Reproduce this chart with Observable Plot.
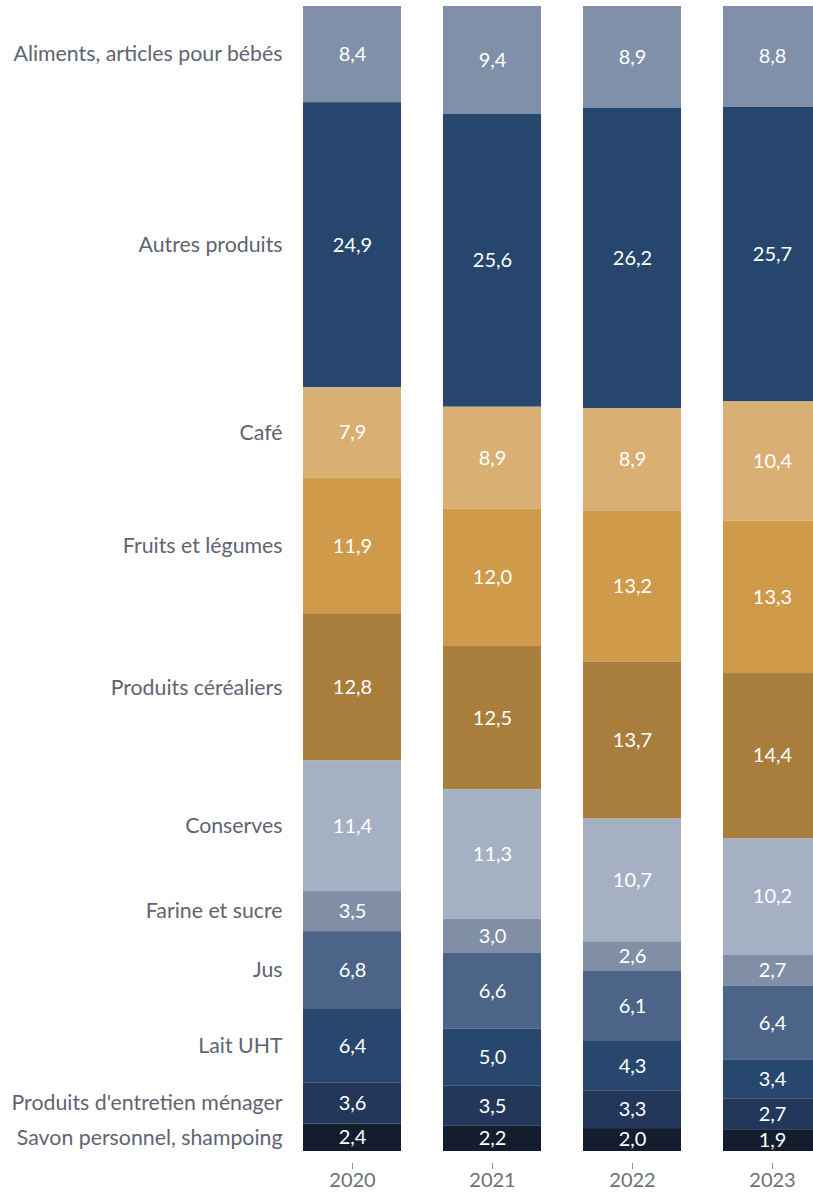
<!DOCTYPE html>
<html><head><meta charset="utf-8">
<script src="https://cdn.jsdelivr.net/npm/d3@7"></script>
<script src="https://cdn.jsdelivr.net/npm/@observablehq/plot@0.6"></script>
<style>html,body{margin:0;padding:0;background:#fff;overflow:hidden}</style>
</head><body><div id="chart"></div>
<script>
const years = ["2020", "2021", "2022", "2023"];
// categories listed from top of the stack to bottom
const categories = [
  "Aliments, articles pour bébés",
  "Autres produits",
  "Café",
  "Fruits et légumes",
  "Produits céréaliers",
  "Conserves",
  "Farine et sucre",
  "Jus",
  "Lait UHT",
  "Produits d'entretien ménager",
  "Savon personnel, shampoing"
];
const colors = ["#8090a8", "#27466e", "#d9af73", "#cf9a4a", "#a97e3d", "#a5b1c2", "#808fa6", "#4c6488", "#28476f", "#22375a", "#131d2e"];
const values2020 = [8.4, 24.9, 7.9, 11.9, 12.8, 11.4, 3.5, 6.8, 6.4, 3.6, 2.4];
const values2021 = [9.4, 25.6, 8.9, 12.0, 12.5, 11.3, 3.0, 6.6, 5.0, 3.5, 2.2];
const values2022 = [8.9, 26.2, 8.9, 13.2, 13.7, 10.7, 2.6, 6.1, 4.3, 3.3, 2.0];
const values2023 = [8.8, 25.7, 10.4, 13.3, 14.4, 10.2, 2.7, 6.4, 3.4, 2.7, 1.9];

const series = [values2020, values2021, values2022, values2023];
const data = [];
years.forEach((year, i) => categories.forEach((category, j) => data.push({year, category, value: series[i][j]})));
const order = categories.slice().reverse();
const fmt = v => v.toFixed(1).replace(".", ",");
const stack = extra => Plot.stackY({offset: "normalize", order, x: "year", y: "value", z: "category", ...extra});

const chart = Plot.plot({
  width: 813,
  height: 1193,
  marginTop: 6,
  marginBottom: 42,
  marginLeft: 0,
  marginRight: 0,
  style: {fontFamily: "Lato, 'Noto Sans', sans-serif", fontSize: "20px", background: "#fff"},
  x: {type: "band", domain: years, range: [260, 864], padding: 0.3, axis: null},
  y: {domain: [0, 1], axis: null},
  color: {domain: categories, range: colors},
  marks: [
    Plot.barY(data, stack({fill: "category"})),
    Plot.text(data, stack({text: d => fmt(d.value), fill: "white", fontSize: 20})),
    Plot.text(data.filter(d => d.year === "2020"), stack({text: "category", textAnchor: "end", dx: -70, fill: "#5f6472", fontSize: 21.3})),
    Plot.axisX({tickSize: 6, tickPadding: 3, dy: 12, stroke: "#8a8d96", color: "#6b6f7b", fontSize: 20, label: null})
  ]
});
document.getElementById("chart").appendChild(chart);
</script>
</body></html>
